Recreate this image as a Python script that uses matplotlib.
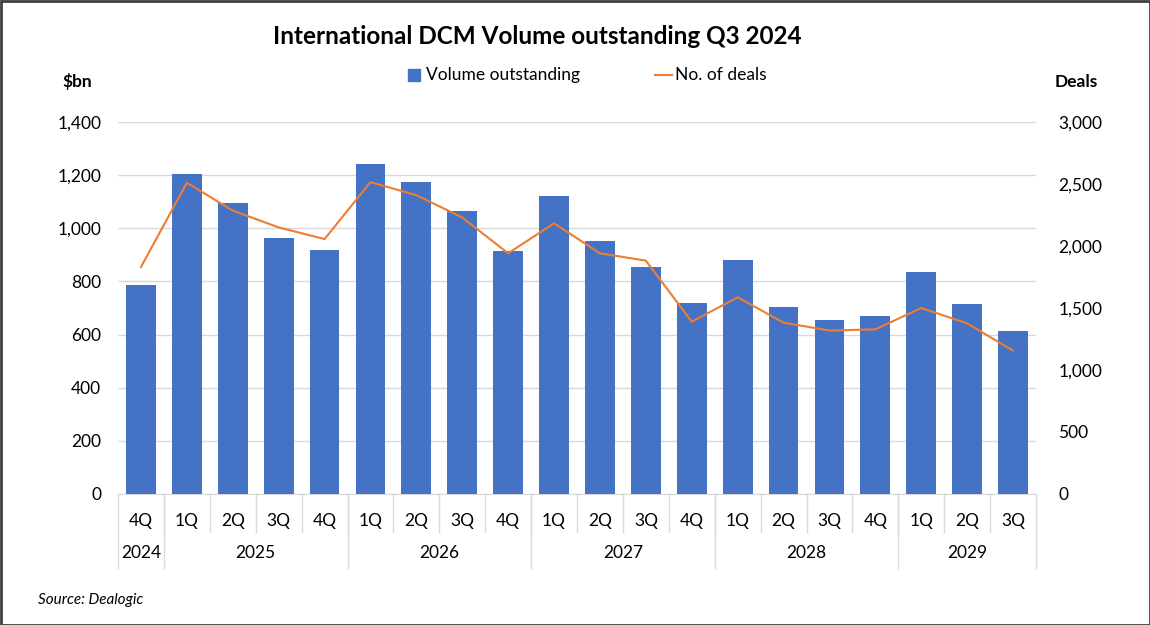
import matplotlib
matplotlib.use("Agg")
import matplotlib.pyplot as plt
import matplotlib.transforms as mtransforms
from matplotlib.patches import Rectangle
from matplotlib.lines import Line2D

quarters = ["4Q", "1Q", "2Q", "3Q", "4Q", "1Q", "2Q", "3Q", "4Q", "1Q",
            "2Q", "3Q", "4Q", "1Q", "2Q", "3Q", "4Q", "1Q", "2Q", "3Q"]
years = ["2024", "2025", "2026", "2027", "2028", "2029"]
year_counts = [1, 4, 4, 4, 4, 3]
volume = [787, 1203, 1097, 964, 918, 1242, 1175, 1066, 915, 1121,
          952, 855, 720, 881, 705, 655, 670, 836, 715, 613]
deals = [1830, 2510, 2285, 2150, 2056, 2515, 2410, 2230, 1941, 2183,
         1941, 1882, 1390, 1586, 1382, 1318, 1328, 1500, 1376, 1156]
left_ticks = [0, 200, 400, 600, 800, 1000, 1200, 1400]
right_ticks = [0, 500, 1000, 1500, 2000, 2500, 3000]

FONT = ["Lato", "DejaVu Sans"]
plt.rcParams["font.family"] = FONT

fig = plt.figure(figsize=(11.5, 6.25), dpi=100)
W, H = 1150, 625
L, R, T, B = 118, 1036, 122, 494
ax = fig.add_axes([L / W, 1 - B / H, (R - L) / W, (B - T) / H])
ax2 = ax.twinx()

x = list(range(len(volume)))
ax.bar(x, volume, width=0.65, color="#4472C4", zorder=3)
ax2.plot(x, deals, color="#ED7D31", lw=1.5, zorder=4)

ax.set_xlim(-0.5, len(volume) - 0.5)
ax.set_ylim(0, 1400)
ax2.set_ylim(0, 3000)
ax.set_yticks(left_ticks)
ax.set_yticklabels([f"{v:,}" for v in left_ticks], fontsize=12.5)
ax2.set_yticks(right_ticks)
ax2.set_yticklabels([f"{v:,}" for v in right_ticks], fontsize=12.5)
ax.yaxis.grid(True, color="#D9D9D9", lw=1, zorder=0)
ax.set_axisbelow(True)
for a in (ax, ax2):
    for s in a.spines.values():
        s.set_visible(False)
    a.tick_params(length=0)
ax.tick_params(axis="y", pad=12, colors="#000000")
ax2.tick_params(axis="y", pad=16)
ax.set_xticks([])
ax.spines["bottom"].set_visible(True)
ax.spines["bottom"].set_color("#D9D9D9")
ax2.set_zorder(ax.get_zorder() + 1)
ax2.patch.set_visible(False)

trans = mtransforms.blended_transform_factory(ax.transData, ax.transAxes)
q_y = (B - 521) / (B - T)
y_y = (B - 553) / (B - T)
q_end = (B - 532) / (B - T)
y_end = (B - 568) / (B - T)
sep = "#D9D9D9"
for i, q in enumerate(quarters):
    ax.text(i, q_y, q, transform=trans, ha="center", va="center", fontsize=12.5)
for i in range(1, len(quarters)):
    ax.add_line(Line2D([i - 0.5, i - 0.5], [0, q_end], transform=trans,
                       color=sep, lw=1, clip_on=False))
start = 0
bounds = [-0.5]
for yname, c in zip(years, year_counts):
    ax.text(start + (c - 1) / 2, y_y, yname, transform=trans, ha="center",
            va="center", fontsize=12.5)
    start += c
    bounds.append(start - 0.5)
for b in bounds:
    ax.add_line(Line2D([b, b], [0, y_end], transform=trans,
                       color=sep, lw=1, clip_on=False))

fig.text(537 / W, 1 - 37 / H, "International DCM Volume outstanding Q3 2024",
         ha="center", va="center", fontsize=17.5, fontweight="bold")
fig.text(62 / W, 1 - 82 / H, "$bn", ha="left", va="center", fontsize=12.5,
         fontweight="bold")
fig.text(1098 / W, 1 - 82 / H, "Deals", ha="right", va="center", fontsize=12.5,
         fontweight="bold")
fig.text(38 / W, 1 - 600 / H, "Source: Dealogic", ha="left", va="center",
         fontsize=11, style="italic")

# legend
fig.patches.append(Rectangle((408 / W, 1 - 81 / H), 12 / W, 12 / H,
                             transform=fig.transFigure, color="#4472C4"))
fig.text(426 / W, 1 - 75 / H, "Volume outstanding", ha="left", va="center",
         fontsize=12.5)
fig.lines.append(Line2D([655 / W, 672 / W], [1 - 75 / H, 1 - 75 / H],
                        transform=fig.transFigure, color="#ED7D31", lw=1.5))
fig.text(675 / W, 1 - 75 / H, "No. of deals", ha="left", va="center",
         fontsize=12.5)

fig.patches.append(Rectangle((0.5 / W, 0.5 / H), 1 - 1 / W, 1 - 1 / H,
                             transform=fig.transFigure, fill=False,
                             edgecolor="#404040", lw=2))

fig.savefig("out.png", dpi=100)
